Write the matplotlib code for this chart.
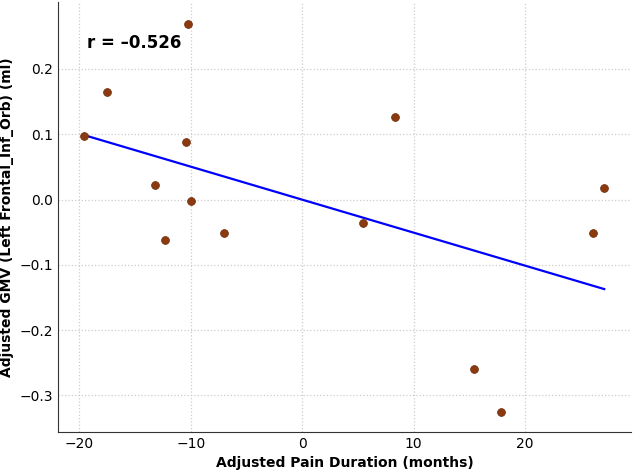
import numpy as np
import matplotlib.pyplot as plt

# Adjusted values
pain_duration = [-19.6, -17.5, -10.2, -10.4, -13.2, -10.0, -12.3, -7.0,
                 5.5, 8.3, 27.1, 26.1, 15.4, 17.8]
gmv = [0.097, 0.165, 0.269, 0.088, 0.022, -0.002, -0.062, -0.051,
       -0.036, 0.127, 0.017, -0.051, -0.260, -0.326]
r_label = "r = \u20130.526"

x = np.array(pain_duration)
y = np.array(gmv)
slope, intercept = np.polyfit(x, y, 1)
xs = np.array([x.min(), x.max()])

fig = plt.figure(figsize=(6.38, 4.71), dpi=100)
ax = fig.add_axes([0.091, 0.083, 0.898, 0.912])

ax.grid(True, linestyle=':', color='#cccccc', linewidth=0.9)
ax.set_axisbelow(True)
ax.plot(xs, slope * xs + intercept, color='blue', linewidth=1.6, zorder=2)
ax.scatter(x, y, s=32, color='#8B3A0F', edgecolor='#6b2a08', linewidth=0.5, zorder=3)

ax.text(0.05, 0.905, r_label, transform=ax.transAxes, fontsize=12,
        fontweight='bold', va='center')

ax.set_xlim(-21.9, 29.5)
ax.set_ylim(-0.356, 0.302)
ax.set_xticks([-20, -10, 0, 10, 20])
ax.set_yticks([-0.3, -0.2, -0.1, 0.0, 0.2, 0.1])
ax.tick_params(direction='in', length=0, labelsize=10)
for s in ['top', 'right']:
    ax.spines[s].set_visible(False)
ax.spines['left'].set_color('#333333')
ax.spines['bottom'].set_color('#333333')

ax.set_xlabel('Adjusted Pain Duration (months)', fontsize=10, fontweight='bold')
ax.set_ylabel('Adjusted GMV (Left Frontal_Inf_Orb) (ml)', fontsize=10, fontweight='bold')

fig.savefig('out.png', dpi=100)
print(slope, intercept, np.corrcoef(x, y)[0, 1])
